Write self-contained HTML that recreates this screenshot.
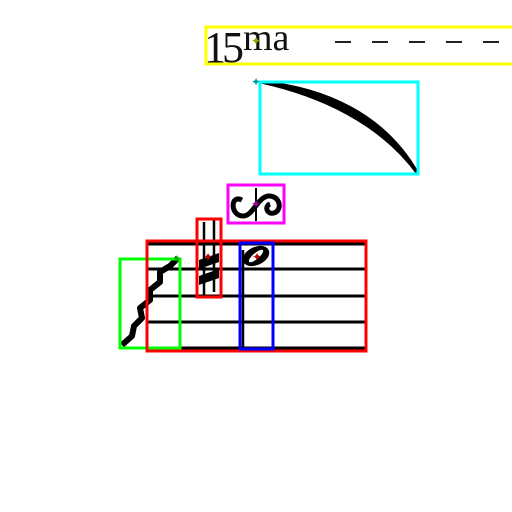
<!DOCTYPE html>
<html><head><meta charset="utf-8"><style>
html,body{margin:0;padding:0;background:#fff;width:512px;height:512px;overflow:hidden}
</style></head><body>
<svg width="512" height="512" viewBox="0 0 512 512">
<g stroke="#000" stroke-width="3">
<line x1="147" y1="244" x2="366" y2="244"/>
<line x1="147" y1="269" x2="366" y2="269"/>
<line x1="147" y1="296" x2="366" y2="296"/>
<line x1="147" y1="322" x2="366" y2="322"/>
<line x1="147" y1="348" x2="366" y2="348"/>
</g>
<path d="M122,345 L132,336 L134,326 L142,318 L140,308 L150,300 L150,290 L160,282 L160,272 L170,266 L178,258" fill="none" stroke="#000" stroke-width="6" stroke-linejoin="round"/>
<g>
<line x1="204" y1="222" x2="204" y2="296" stroke="#000" stroke-width="2.5"/>
<line x1="214" y1="219" x2="214" y2="292" stroke="#000" stroke-width="2.5"/>
<path d="M199,260 L219,253 L219,262 L199,269Z M199,276 L219,269 L219,278 L199,285Z" fill="#000"/>
</g>
<g>
<line x1="243" y1="250" x2="243" y2="348" stroke="#000" stroke-width="2.5"/>
<ellipse cx="256" cy="256" rx="14" ry="9" transform="rotate(-25 256 256)" fill="#000"/>
<ellipse cx="256" cy="256" rx="9" ry="3" transform="rotate(-40 256 256)" fill="#fff"/>
</g>
<g fill="none" stroke="#000" stroke-width="5">
<path d="M242,200 C230,194 230,216 243,216 C253,216 257,198 268,196 C280,195 283,210 274,213 C267,215 264,206 270,204"/>
<line x1="256" y1="188" x2="256" y2="221" stroke-width="2"/>
</g>
<path d="M261,82 C325,88 385,115 418,174 C380,122 320,95 261,82Z" fill="#000" stroke="#000" stroke-width="3" stroke-linejoin="round"/>
<g>
<text x="204" y="62" font-family="Liberation Serif, serif" font-size="44" letter-spacing="-4" fill="#111">15</text>
<text x="243" y="50" font-family="Liberation Serif, serif" font-size="38" fill="#111">ma</text>
<line x1="335" y1="42" x2="512" y2="42" stroke="#222" stroke-width="2" stroke-dasharray="16,21"/>
</g>
<g fill="none" stroke-width="3">
<rect x="120" y="259" width="60" height="89" stroke="#00ff00"/>
<rect x="147" y="241" width="219" height="110" stroke="#ff0000"/>
<rect x="197" y="219" width="24" height="78" stroke="#ff0000"/>
<rect x="240" y="243" width="33" height="106" stroke="#0000ff"/>
<rect x="228" y="185" width="56" height="38" stroke="#ff00ff"/>
<rect x="260" y="82" width="158" height="92" stroke="#00ffff"/>
<rect x="206" y="27" width="310" height="37" stroke="#ffff00"/>
</g>
<g font-size="12" font-weight="bold" text-anchor="middle" font-family="DejaVu Sans, sans-serif">
<text x="177" y="263" fill="#00b000">✦</text>
<text x="208" y="261" fill="#c00000">✦</text>
<text x="257" y="261" fill="#c00000">✦</text>
<text x="256" y="208" fill="#a000a0">✦</text>
<text x="256" y="86" fill="#00a0a0">✦</text>
<text x="256" y="45" fill="#a0a000">✦</text>
</g>
</svg>
</body></html>
